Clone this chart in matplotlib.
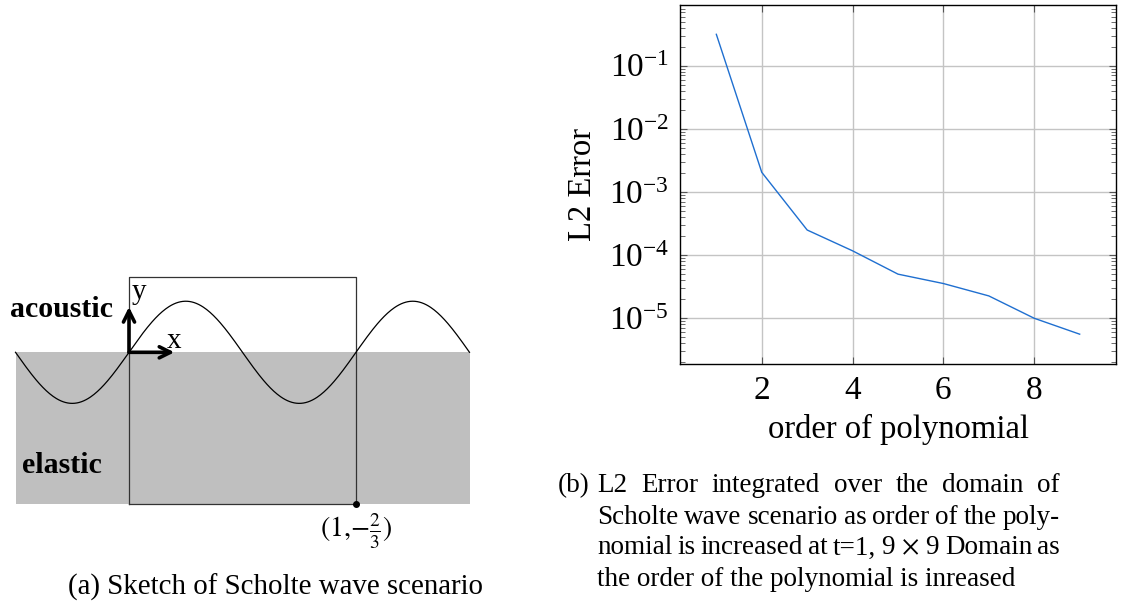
import numpy as np
import matplotlib
matplotlib.use("Agg")
import matplotlib.pyplot as plt
from matplotlib.ticker import LogLocator, NullFormatter

plt.rcParams['font.family'] = ['Liberation Serif', 'DejaVu Serif']
plt.rcParams['mathtext.fontset'] = 'stix'

# error data
orders = [1, 2, 3, 4, 5, 6, 7, 8, 9]
l2_error = [0.314, 2.05e-3, 2.5e-4, 1.17e-4, 5.0e-5, 3.55e-5, 2.26e-5, 1.0e-5, 5.6e-6]
x_ticks = [2, 4, 6, 8]

# sketch geometry (units of the domain width)
domain_x = [0.0, 1.0]
domain_y = [-2.0 / 3.0, 1.0 / 3.0]
layer_x = [-0.5, 1.5]
wave_amp = 0.225

caption_a = "(a) Sketch of Scholte wave scenario"
caption_b = ["L2 Error integrated over the domain of",
             "Scholte wave scenario as order of the poly-",
             "nomial is increased at t=1, 9 $\\times$ 9 Domain as",
             "the order of the polynomial is inreased"]

W, H = 1124, 605


def px_box(left, top, right, bottom):
    return [left / W, 1 - bottom / H, (right - left) / W, (bottom - top) / H]


fig = plt.figure(figsize=(W / 100, H / 100), dpi=100)

# ---- sketch (a)
unit = 227.0
x0_px, y0_px = 129.0, 352.3
box = (0, 250, 540, 545)
sk = fig.add_axes(px_box(*box))
sk.set_xlim((box[0] - x0_px) / unit, (box[2] - x0_px) / unit)
sk.set_ylim((y0_px - box[3]) / unit, (y0_px - box[1]) / unit)
sk.axis('off')

sk.fill_between(layer_x, domain_y[0], 0, color='#bfbfbf', lw=0, zorder=1)
xs = np.linspace(layer_x[0], layer_x[1], 400)
sk.plot(xs, wave_amp * np.sin(2 * np.pi * xs), color='black', lw=0.9, zorder=3)
sk.plot([domain_x[0], domain_x[1], domain_x[1], domain_x[0], domain_x[0]],
        [domain_y[0], domain_y[0], domain_y[1], domain_y[1], domain_y[0]],
        color='#333333', lw=0.9, zorder=2)
sk.plot([domain_x[1]], [domain_y[0]], 'o', color='black', ms=4, zorder=4)

arrow = dict(arrowstyle='->', lw=2.6, color='black', mutation_scale=20,
             shrinkA=0, shrinkB=0)
sk.annotate('', xy=(0, 0.2), xytext=(0, 0), arrowprops=arrow, zorder=5)
sk.annotate('', xy=(0.2, 0), xytext=(0, 0), arrowprops=arrow, zorder=5)
sk.text(0.045, 0.265, 'y', fontsize=21, ha='center', va='center')
sk.text(0.2, 0.05, 'x', fontsize=21, ha='center', va='center')
sk.text(-0.07, 0.19, 'acoustic', fontsize=21.5, fontweight='bold', ha='right', va='center')
sk.text(-0.12, -0.50, 'elastic', fontsize=21.5, fontweight='bold', ha='right', va='center')
sk.text(1.0, domain_y[0] - 0.122, r'$(1{,}{-}\frac{2}{3})$', fontsize=20, ha='center', va='center')

fig.text(68 / W, 1 - 587 / H, caption_a, fontsize=20.8, ha='left', va='center')

# ---- convergence plot (b)
ax = fig.add_axes(px_box(680, 4.7, 1116, 364))
ax.semilogy(orders, l2_error, color='#1f6fd0', lw=1.0)
ax.set_xlim(0.2, 9.8)
ax.set_ylim(10 ** -5.724, 10 ** -0.034)
ax.set_xticks(x_ticks)
ax.yaxis.set_major_locator(LogLocator(base=10, numticks=20))
ax.yaxis.set_minor_locator(LogLocator(base=10, subs=np.arange(2, 10), numticks=20))
ax.yaxis.set_minor_formatter(NullFormatter())
ax.grid(True, which='major', color='#c4c4c4', lw=1.0)
ax.tick_params(which='both', direction='in', top=True, right=True, labelsize=24, pad=8)
ax.tick_params(which='major', length=5, width=0.8, color='#555555')
ax.tick_params(which='minor', length=3.5, width=0.6, color='#555555')
for s in ax.spines.values():
    s.set_linewidth(1.0)
ax.set_xlabel('order of polynomial', fontsize=23.5, labelpad=6)
ax.set_ylabel('L2 Error', fontsize=23.5, labelpad=8)

# caption (b), justified like LaTeX
cap_left, cap_right = 597, 1060
line_y = [486, 517, 548, 579]
size_b = 19.5
fig.text(558 / W, 1 - line_y[0] / H, '(b)', fontsize=size_b, ha='left', va='center')
renderer = fig.canvas.get_renderer()
for i, line in enumerate(caption_b):
    y = 1 - line_y[i] / H
    if i == len(caption_b) - 1:
        fig.text(cap_left / W, y, line, fontsize=size_b, ha='left', va='center')
        continue
    words = line.replace('9 $\\times$ 9', '9\u00a0$\\times$\u00a09').split(' ')
    words = [w.replace('\u00a0', ' ') for w in words]
    texts = [fig.text(0, y, w, fontsize=size_b, ha='left', va='center') for w in words]
    widths = [t.get_window_extent(renderer).width for t in texts]
    gap = (cap_right - cap_left - sum(widths)) / (len(words) - 1)
    xpos = cap_left
    for t, wd in zip(texts, widths):
        t.set_x(xpos / W)
        xpos += wd + gap

fig.savefig('out.png', dpi=100)
